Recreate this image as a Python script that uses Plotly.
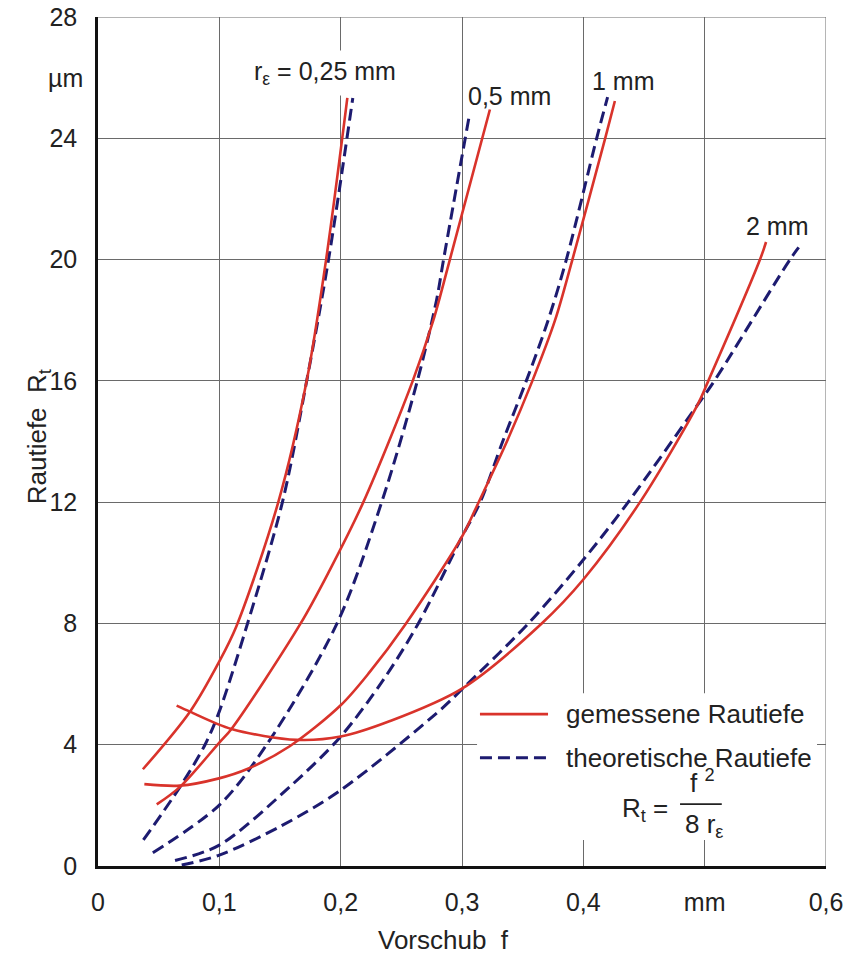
import plotly.graph_objects as go

# ---------------- data ----------------
# measured roughness (solid red) and theoretical roughness (dashed navy)
# feed f in mm, roughness Rt in µm
meas_025_f = [0.037, 0.0758, 0.100, 0.114, 0.1486, 0.172, 0.188, 0.2055]
meas_025_rt = [3.19, 5.09, 6.75, 7.9, 12.0, 16.0, 20.0, 25.33]
theo_025_f = [0.0374, 0.0676, 0.0882, 0.100, 0.1225, 0.152, 0.172, 0.190, 0.210]
theo_025_rt = [0.86, 2.61, 4.0, 5.1, 7.9, 12.0, 16.0, 20.0, 25.33]

meas_05_f = [0.0484, 0.0676, 0.100, 0.110, 0.167, 0.191, 0.2187, 0.2594, 0.2764, 0.290, 0.323]
meas_05_rt = [2.03, 2.61, 4.07, 4.52, 8.0, 9.76, 12.0, 16.0, 18.0, 20.0, 24.95]
theo_05_f = [0.0452, 0.100, 0.139, 0.197, 0.2338, 0.2632, 0.279, 0.2848, 0.3058]
theo_05_rt = [0.44, 2.01, 4.0, 8.0, 12.0, 16.0, 18.66, 20.0, 24.7]

meas_1_f = [0.0382, 0.0676, 0.0997, 0.1225, 0.158, 0.200, 0.224, 0.253, 0.300, 0.312, 0.337, 0.358, 0.3767, 0.391, 0.418, 0.426]
meas_1_rt = [2.70, 2.65, 2.89, 3.19, 3.95, 5.30, 6.40, 7.95, 10.86, 11.85, 14.0, 16.0, 18.0, 20.0, 24.0, 25.23]
theo_1_f = [0.0635, 0.100, 0.158, 0.200, 0.235, 0.264, 0.300, 0.315, 0.334, 0.353, 0.371, 0.386, 0.411, 0.420]
theo_1_rt = [0.18, 0.69, 2.61, 4.27, 6.13, 8.0, 10.86, 12.0, 14.05, 16.0, 18.0, 20.0, 24.0, 25.36]

meas_2_f = [0.0648, 0.0758, 0.110, 0.1637, 0.200, 0.2407, 0.300, 0.3657, 0.400, 0.4467, 0.494, 0.503, 0.5456, 0.5506]
meas_2_rt = [5.29, 5.09, 4.52, 4.16, 4.27, 4.78, 5.85, 8.0, 9.45, 12.0, 15.2, 16.0, 20.0, 20.58]
theo_2_f = [0.069, 0.100, 0.150, 0.200, 0.2819, 0.300, 0.3547, 0.400, 0.437, 0.494, 0.508, 0.5703, 0.5775]
theo_2_rt = [0.03, 0.36, 1.3, 2.5, 5.14, 5.83, 8.0, 10.1, 12.0, 15.2, 16.0, 20.0, 20.4]

x_tick_vals = [0, 0.1, 0.2, 0.3, 0.4, 0.5, 0.6]
x_tick_text = ["0", "0,1", "0,2", "0,3", "0,4", "mm", "0,6"]
y_tick_vals = [0, 4, 8, 12, 16, 20, 24, 28]
y_tick_text = ["0", "4", "8", "12", "16", "20", "24", "28"]

radius_labels = ["r<sub>ε</sub> = 0,25 mm", "0,5 mm", "1 mm", "2 mm"]
radius_label_x = [0.1871, 0.339, 0.4335, 0.5604]
radius_label_y = [26.15, 25.39, 25.88, 21.1]

legend_labels = ["gemessene Rautiefe", "theoretische Rautiefe"]

# ---------------- styling ----------------
RED = "#d9332b"
NAVY = "#1d1b70"
GRID = "#6a6a6a"
TXT = "#222222"
FONT = "Liberation Sans, Arial, Helvetica, sans-serif"
SMOOTH = 0.9

fig = go.Figure()

pairs = [
    (meas_025_f, meas_025_rt, theo_025_f, theo_025_rt),
    (meas_05_f, meas_05_rt, theo_05_f, theo_05_rt),
    (meas_1_f, meas_1_rt, theo_1_f, theo_1_rt),
    (meas_2_f, meas_2_rt, theo_2_f, theo_2_rt),
]
for mf, mr, tf, tr in pairs:
    fig.add_trace(go.Scatter(x=tf, y=tr, mode="lines", showlegend=False,
                             line=dict(color=NAVY, width=3, dash="12px,6px",
                                       shape="spline", smoothing=SMOOTH),
                             hoverinfo="skip"))
    fig.add_trace(go.Scatter(x=mf, y=mr, mode="lines", showlegend=False,
                             line=dict(color=RED, width=2.6,
                                       shape="spline", smoothing=SMOOTH),
                             hoverinfo="skip"))

shapes = []
# top and right frame lines (grey like the grid)
shapes.append(dict(type="line", xref="x", yref="y", x0=0, x1=0.6, y0=28, y1=28,
                   line=dict(color=GRID, width=1), layer="between"))
shapes.append(dict(type="line", xref="x", yref="y", x0=0.6, x1=0.6, y0=0, y1=28,
                   line=dict(color=GRID, width=1), layer="between"))
# white legend box hiding the grid
shapes.append(dict(type="rect", xref="x", yref="y", x0=0.3124, x1=0.5926, y0=0.86, y1=5.70,
                   fillcolor="white", line=dict(width=0), layer="between"))
# legend samples
shapes.append(dict(type="line", xref="x", yref="y", x0=0.3148, x1=0.3709, y0=5.01, y1=5.01,
                   line=dict(color=RED, width=2.6), layer="above"))
shapes.append(dict(type="line", xref="x", yref="y", x0=0.3148, x1=0.3709, y0=3.57, y1=3.57,
                   line=dict(color=NAVY, width=3, dash="12px,6px"), layer="above"))
# fraction bar of the formula
shapes.append(dict(type="line", xref="x", yref="y", x0=0.4797, x1=0.5141, y0=2.04, y1=2.04,
                   line=dict(color=TXT, width=1.6), layer="above"))

annotations = []
for i, (t, x, y) in enumerate(zip(radius_labels, radius_label_x, radius_label_y)):
    annotations.append(dict(text=t, x=x, y=y, xref="x", yref="y", showarrow=False,
                            font=dict(family=FONT, size=25, color=TXT),
                            xanchor="center", yanchor="middle",
                            bgcolor="white" if i == 0 else None, borderpad=6))
annotations.append(dict(text=legend_labels[0], x=0.3841, y=5.01, xref="x", yref="y",
                        showarrow=False, xanchor="left", yanchor="middle",
                        font=dict(family=FONT, size=26, color=TXT)))
annotations.append(dict(text=legend_labels[1], x=0.3841, y=3.57, xref="x", yref="y",
                        showarrow=False, xanchor="left", yanchor="middle",
                        font=dict(family=FONT, size=26, color=TXT)))
# formula Rt = f^2 / (8 r_eps)
annotations.append(dict(text="R<sub>t</sub> =", x=0.4714, y=1.88, xref="x", yref="y",
                        showarrow=False, xanchor="right", yanchor="middle",
                        font=dict(family=FONT, size=26, color=TXT)))
annotations.append(dict(text="f <sup>2</sup>", x=0.4863, y=2.18, xref="x", yref="y",
                        showarrow=False, xanchor="left", yanchor="bottom",
                        font=dict(family=FONT, size=26, color=TXT)))
annotations.append(dict(text="8 r<sub>ε</sub>", x=0.4822, y=1.95, xref="x", yref="y",
                        showarrow=False, xanchor="left", yanchor="top",
                        font=dict(family=FONT, size=26, color=TXT)))
# unit on the y axis
annotations.append(dict(text="µm", x=-0.0179, y=26, xref="paper", yref="y",
                        showarrow=False, xanchor="right", yanchor="middle",
                        font=dict(family=FONT, size=25, color=TXT)))
# axis titles
annotations.append(dict(text="Vorschub\u00a0 f", x=0.474, y=-0.0872, xref="paper", yref="paper",
                        showarrow=False, xanchor="center", yanchor="middle",
                        font=dict(family=FONT, size=26, color=TXT)))
annotations.append(dict(text="Rautiefe\u00a0 R<sub>t</sub>", x=-0.0824, y=0.505, xref="paper", yref="paper",
                        showarrow=False, xanchor="center", yanchor="middle", textangle=-90,
                        font=dict(family=FONT, size=26, color=TXT)))

fig.update_layout(
    width=845, height=954,
    margin=dict(l=98, r=19, t=17, b=88, autoexpand=False),
    paper_bgcolor="white", plot_bgcolor="white",
    showlegend=False,
    shapes=shapes, annotations=annotations,
    font=dict(family=FONT, size=25, color=TXT),
)
fig.update_xaxes(range=[0, 0.6], tickvals=x_tick_vals, ticktext=x_tick_text,
                 showgrid=True, gridcolor=GRID, gridwidth=1, zeroline=False,
                 showline=True, linecolor="#111111", linewidth=2.5, ticks="",
                 automargin=False,
                 ticklabelstandoff=12, tickfont=dict(family=FONT, size=25, color=TXT))
fig.update_yaxes(range=[0, 28], tickvals=y_tick_vals, ticktext=y_tick_text,
                 showgrid=True, gridcolor=GRID, gridwidth=1, zeroline=False,
                 showline=True, linecolor="#111111", linewidth=2.5, ticks="",
                 automargin=False,
                 ticklabelstandoff=13, tickfont=dict(family=FONT, size=25, color=TXT))

fig.write_html("out.html", config={"displayModeBar": False},
               post_script="document.body.style.margin='0px';document.body.style.overflow='hidden';")
